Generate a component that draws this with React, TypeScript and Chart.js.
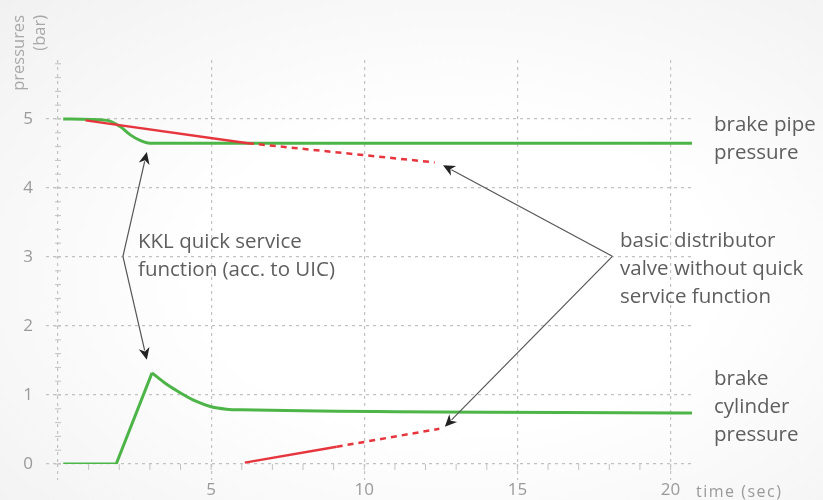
import React, { useEffect, useRef } from "react";
import { Chart, registerables } from "chart.js";

Chart.register(...registerables);

// ---- axis ticks ----
const xTickValues = [0, 5, 10, 15, 20];
const yTickValues = [0, 1, 2, 3, 4, 5];

// ---- brake pipe pressure (bar) ----
const pipeKKLTime = [0.17, 1.6, 2.03, 2.36, 2.68, 3.0, 20.7];
const pipeKKLBar = [5.0, 4.98, 4.89, 4.77, 4.69, 4.65, 4.65];

const pipeBasicSolidTime = [0.9, 6.2];
const pipeBasicSolidBar = [4.98, 4.65];
const pipeBasicDashTime = [6.2, 12.3];
const pipeBasicDashBar = [4.65, 4.37];

// ---- brake cylinder pressure (bar) ----
const cylKKLRiseTime = [0.17, 1.9, 3.07];
const cylKKLRiseBar = [0, 0, 1.32];
const cylKKLDecayTime = [3.07, 3.5, 4.0, 4.5, 5.0, 5.5, 6.0, 20.7];
const cylKKLDecayBar = [1.32, 1.17, 1.03, 0.91, 0.83, 0.795, 0.785, 0.74];

const cylBasicSolidTime = [6.1, 9.1];
const cylBasicSolidBar = [0.02, 0.25];
const cylBasicDashTime = [9.1, 12.45];
const cylBasicDashBar = [0.25, 0.51];

// ---- annotation texts ----
const labelBrakePipe = ["brake pipe", "pressure"];
const labelBrakeCyl = ["brake", "cylinder", "pressure"];
const labelKKL = ["KKL quick service", "function (acc. to UIC)"];
const labelBasic = ["basic distributor", "valve without quick", "service function"];
const yTitle = ["pressures", "(bar)"];
const xTitle = "time (sec)";

// arrows in data coordinates: [fromT, fromP, toT, toP]
const kklArrows = [
  [2.12, 3.01, 2.9, 4.52],
  [2.12, 3.01, 2.9, 1.51],
];
const basicArrows = [
  [18.1, 3.01, 12.57, 4.33],
  [18.1, 3.01, 12.63, 0.54],
];

const GREEN = "#4db548";
const RED = "#e6353d";
const TEXT = "#5e5e5e";
const TICK = "#9a9a9a";
const GRID = "#c2c2c2";
const FONT = "'Open Sans', 'Noto Sans', sans-serif";

const pts = (t: number[], p: number[]) => t.map((x, i) => ({ x, y: p[i] }));

const decorPlugin = {
  id: "decor",
  beforeDatasetsDraw(chart: any) {
    const { ctx, scales } = chart;
    const xs = scales.x;
    const ys = scales.y;
    ctx.save();
    ctx.strokeStyle = GRID;
    ctx.lineWidth = 1;
    // minor ticks on y axis
    const x0 = xs.getPixelForValue(0);
    for (let v = 0; v <= 5.81; v += 0.2) {
      const py = ys.getPixelForValue(v);
      ctx.beginPath();
      ctx.moveTo(x0 - 3, py);
      ctx.lineTo(x0 + 3, py);
      ctx.stroke();
    }
    // minor ticks on x axis
    const y0 = ys.getPixelForValue(0);
    for (let v = 1; v <= 20; v += 1) {
      const px = xs.getPixelForValue(v);
      ctx.beginPath();
      ctx.moveTo(px, y0);
      ctx.lineTo(px, y0 + 6);
      ctx.stroke();
    }
    ctx.restore();
  },
  afterDatasetsDraw(chart: any) {
    const { ctx, scales } = chart;
    const xs = scales.x;
    const ys = scales.y;
    ctx.save();
    // arrows
    const drawArrow = (a: number[]) => {
      const fx = xs.getPixelForValue(a[0]);
      const fy = ys.getPixelForValue(a[1]);
      const tx = xs.getPixelForValue(a[2]);
      const ty = ys.getPixelForValue(a[3]);
      const ang = Math.atan2(ty - fy, tx - fx);
      const len = 12;
      const hw = 5.5;
      ctx.strokeStyle = "#555";
      ctx.fillStyle = "#222";
      ctx.lineWidth = 1.2;
      ctx.beginPath();
      ctx.moveTo(fx, fy);
      ctx.lineTo(tx - Math.cos(ang) * len * 0.8, ty - Math.sin(ang) * len * 0.8);
      ctx.stroke();
      ctx.beginPath();
      ctx.moveTo(tx, ty);
      ctx.lineTo(
        tx - Math.cos(ang) * len + Math.sin(ang) * hw,
        ty - Math.sin(ang) * len - Math.cos(ang) * hw
      );
      ctx.lineTo(
        tx - Math.cos(ang) * len * 0.7,
        ty - Math.sin(ang) * len * 0.7
      );
      ctx.lineTo(
        tx - Math.cos(ang) * len - Math.sin(ang) * hw,
        ty - Math.sin(ang) * len + Math.cos(ang) * hw
      );
      ctx.closePath();
      ctx.fill();
    };
    kklArrows.forEach(drawArrow);
    basicArrows.forEach(drawArrow);

    // annotation texts
    const block = (lines: string[], x: number, y: number, size: number, lh: number) => {
      ctx.font = `${size}px ${FONT}`;
      ctx.fillStyle = TEXT;
      ctx.textAlign = "left";
      ctx.textBaseline = "middle";
      lines.forEach((l, i) => ctx.fillText(l, x, y + i * lh));
    };
    block(labelBrakePipe, 714, 125, 20.5, 28);
    block(labelBrakeCyl, 714, 379, 20.5, 28);
    block(labelKKL, 138, 242, 20.5, 28);
    block(labelBasic, 620, 241, 20.5, 28);

    // x title
    ctx.font = `16px ${FONT}`;
    ctx.fillStyle = TICK;
    ctx.textAlign = "left";
    ctx.textBaseline = "middle";
    (ctx as any).letterSpacing = "1.5px";
    ctx.fillText(xTitle, 696, 492);
    (ctx as any).letterSpacing = "0px";

    // y title (rotated)
    ctx.font = `16.5px ${FONT}`;
    ctx.fillStyle = "#a8a8a8";
    const yx = [19, 40];
    yTitle.forEach((t, i) => {
      ctx.save();
      ctx.translate(yx[i], 15);
      ctx.rotate(-Math.PI / 2);
      ctx.textAlign = "right";
      ctx.textBaseline = "middle";
      ctx.fillText(t, 0, 0);
      ctx.restore();
    });
    ctx.restore();
  },
};

export default function App() {
  const ref = useRef<HTMLCanvasElement>(null);

  useEffect(() => {
    if (!ref.current) return;
    const solid = (data: any, color: string, w: number, tension = 0) => ({
      data,
      borderColor: color,
      borderWidth: w,
      pointRadius: 0,
      fill: false,
      tension,
      cubicInterpolationMode: tension ? "monotone" : "default",
    });
    const dashed = (data: any, color: string, w: number) => ({
      ...solid(data, color, w),
      borderDash: [6, 5],
    });

    const gridOpts = {
      color: GRID,
      lineWidth: 1.2,
      drawTicks: true,
      tickColor: GRID,
      tickBorderDash: [3, 4],
    };

    const chart = new Chart(ref.current, {
      type: "line",
      data: {
        datasets: [
          solid(pts(pipeBasicSolidTime, pipeBasicSolidBar), RED, 2.5),
          dashed(pts(pipeBasicDashTime, pipeBasicDashBar), RED, 2.5),
          solid(pts(cylBasicSolidTime, cylBasicSolidBar), RED, 2.5),
          dashed(pts(cylBasicDashTime, cylBasicDashBar), RED, 2.5),
          solid(pts(pipeKKLTime, pipeKKLBar), GREEN, 3, 0.4),
          solid(pts(cylKKLRiseTime, cylKKLRiseBar), GREEN, 3, 0),
          solid(pts(cylKKLDecayTime, cylKKLDecayBar), GREEN, 3, 0.4),
        ] as any,
      },
      options: {
        animation: false,
        responsive: true,
        maintainAspectRatio: false,
        layout: { padding: { top: 60, right: 131, left: 0, bottom: 0 } },
        plugins: {
          legend: { display: false },
          tooltip: { enabled: false },
        },
        scales: {
          x: {
            type: "linear",
            min: 0,
            max: 20.7,
            afterBuildTicks: (s: any) => {
              s.ticks = xTickValues.map((v) => ({ value: v }));
            },
            afterFit: (s: any) => {
              s.height = 36;
            },
            border: { display: false, dash: [3, 4] },
            grid: { ...gridOpts, tickLength: 16 } as any,
            ticks: {
              padding: 0,
              color: TICK,
              font: { family: FONT, size: 17 },
              callback: (v: any) => (v === 0 ? "" : String(v)),
              maxRotation: 0,
            },
          },
          y: {
            type: "linear",
            min: 0,
            max: 5.855,
            afterBuildTicks: (s: any) => {
              s.ticks = yTickValues.map((v) => ({ value: v }));
            },
            afterFit: (s: any) => {
              s.width = 58;
            },
            border: { display: false, dash: [3, 4] },
            grid: { ...gridOpts, tickLength: 12 } as any,
            ticks: {
              padding: 13,
              color: TICK,
              font: { family: FONT, size: 17 },
            },
          },
        },
      } as any,
      plugins: [decorPlugin],
    });
    return () => chart.destroy();
  }, []);

  return (
    <div
      style={{
        position: "fixed",
        left: 0,
        top: 0,
        width: 823,
        height: 500,
        background:
          "radial-gradient(ellipse at 55% 55%, #ffffff 40%, #f1f1f1 100%)",
      }}
    >
      <canvas ref={ref} />
    </div>
  );
}
